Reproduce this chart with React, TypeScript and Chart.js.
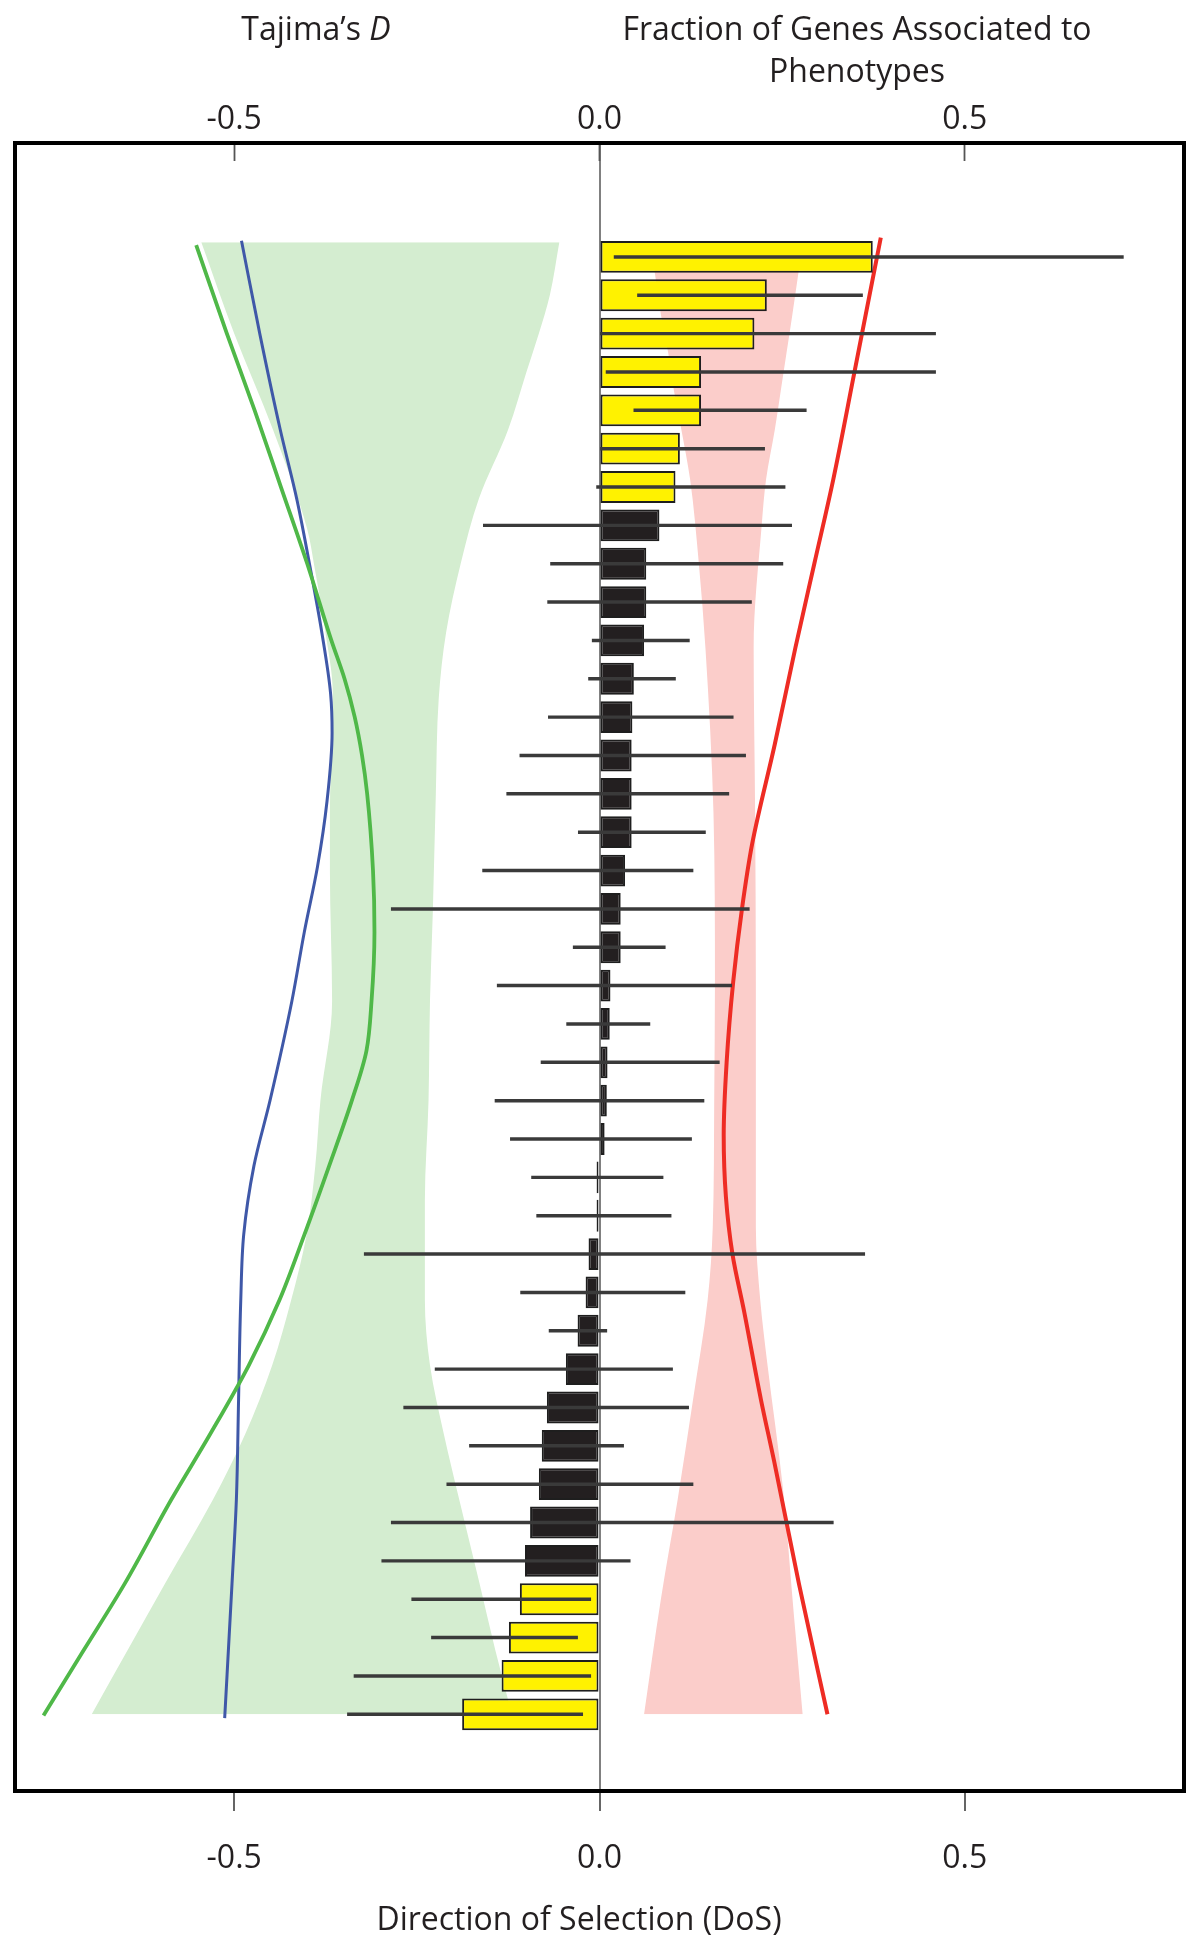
import React, { useEffect, useRef } from 'react';
import { Chart, registerables } from 'chart.js';

Chart.register(...registerables);

// ---------- data (rows top -> bottom) ----------
const DOS = [
  0.374, 0.229, 0.212, 0.139, 0.139, 0.11, 0.104,
  0.082, 0.064, 0.064, 0.061, 0.047, 0.045, 0.044, 0.044, 0.044, 0.035, 0.029, 0.029,
  0.015, 0.014, 0.011, 0.01, 0.007, -0.004, -0.004, -0.015, -0.019, -0.03, -0.046,
  -0.072, -0.079, -0.083, -0.095, -0.102,
  -0.109, -0.124, -0.134, -0.188,
];
const DOS_LOW = [
  0.02, 0.052, 0.0, 0.009, 0.047, 0.0, -0.004,
  -0.159, -0.067, -0.071, -0.01, -0.015, -0.07, -0.109, -0.127, -0.029, -0.16, -0.285, -0.036,
  -0.14, -0.045, -0.08, -0.143, -0.122, -0.093, -0.086, -0.322, -0.108, -0.069, -0.225,
  -0.268, -0.178, -0.209, -0.285, -0.298,
  -0.257, -0.23, -0.336, -0.345,
];
const DOS_HIGH = [
  0.717, 0.36, 0.46, 0.46, 0.283, 0.226, 0.254,
  0.263, 0.251, 0.208, 0.123, 0.104, 0.183, 0.2, 0.177, 0.145, 0.128, 0.205, 0.09,
  0.181, 0.069, 0.164, 0.143, 0.126, 0.087, 0.098, 0.363, 0.117, 0.01, 0.1,
  0.122, 0.033, 0.128, 0.32, 0.042,
  -0.012, -0.03, -0.012, -0.023,
];
const SIGNIFICANT = [
  true, true, true, true, true, true, true,
  false, false, false, false, false, false, false, false, false, false, false, false,
  false, false, false, false, false, false, false, false, false, false, false,
  false, false, false, false, false,
  true, true, true, true,
];

// Tajima's D curves (row position, value)
const GREEN_LINE_ROW = [-0.31, 2, 4, 6, 8, 10, 11, 12, 13, 14, 16, 17.6, 19.4, 20.7, 22, 23.7, 25.5, 27.2, 28.9, 30.7, 32.4, 34.6, 36.3, 38.03];
const GREEN_LINE_D = [-0.552, -0.51, -0.472, -0.436, -0.4, -0.367, -0.349, -0.335, -0.325, -0.318, -0.31, -0.308, -0.312, -0.319, -0.339, -0.37, -0.404, -0.438, -0.48, -0.533, -0.586, -0.65, -0.705, -0.761];
const BLUE_LINE_ROW = [-0.42, 2, 4.5, 6.34, 8.1, 9.8, 11.4, 12.4, 14.2, 15.9, 17.6, 19.4, 22, 23.7, 25.5, 27.2, 29.8, 32.4, 34.6, 38.1];
const BLUE_LINE_D = [-0.49, -0.465, -0.437, -0.414, -0.396, -0.38, -0.368, -0.366, -0.373, -0.386, -0.404, -0.421, -0.451, -0.473, -0.487, -0.491, -0.494, -0.497, -0.503, -0.513];
const GREEN_BAND_LO_ROW = [-0.38, 2, 4.5, 7.1, 8.1, 9.8, 11.4, 12.4, 14.5, 16, 19.4, 22, 23.7, 25.5, 27.2, 28.9, 30.7, 32.4, 34.6, 36.3, 38];
const GREEN_BAND_LO = [-0.545, -0.5, -0.447, -0.4, -0.39, -0.375, -0.365, -0.366, -0.369, -0.369, -0.366, -0.382, -0.389, -0.401, -0.422, -0.448, -0.485, -0.529, -0.595, -0.645, -0.695];
const GREEN_BAND_HI_ROW = [-0.38, 1, 2, 3, 4.5, 6.3, 8, 9.8, 11.5, 14, 17, 19.4, 22, 24.6, 27.2, 28.9, 30.7, 32.4, 34.6, 36.3, 38];
const GREEN_BAND_HI = [-0.055, -0.068, -0.083, -0.1, -0.125, -0.165, -0.19, -0.21, -0.22, -0.224, -0.228, -0.232, -0.234, -0.239, -0.239, -0.232, -0.213, -0.192, -0.164, -0.143, -0.12];

// Fraction of genes associated to phenotypes (row position, value)
const RED_LINE_ROW = [-0.5, 3, 5.8, 8, 10.2, 12.7, 15.3, 17, 18.9, 21, 22.9, 24.5, 26, 27.5, 29.8, 31.4, 34.6, 38];
const RED_LINE_FRAC = [0.385, 0.349, 0.32, 0.294, 0.268, 0.24, 0.209, 0.195, 0.183, 0.174, 0.17, 0.173, 0.182, 0.198, 0.221, 0.239, 0.273, 0.312];
const PINK_BAND_LO_ROW = [-0.4, 0.45, 1.5, 2.5, 3.5, 4.5, 5.8, 8, 10.2, 14.5, 18.9, 22, 25.3, 27.2, 29.8, 32.4, 35, 38];
const PINK_BAND_LO = [0.07, 0.076, 0.084, 0.094, 0.102, 0.112, 0.124, 0.136, 0.145, 0.156, 0.158, 0.157, 0.155, 0.148, 0.128, 0.107, 0.084, 0.061];
const PINK_BAND_HI_ROW = [-0.4, 0.45, 1.5, 2.5, 3.5, 4.5, 5.8, 7, 10.2, 14.5, 18.9, 25.3, 27.2, 28.9, 32.1, 35.4, 38];
const PINK_BAND_HI = [0.279, 0.272, 0.264, 0.256, 0.248, 0.24, 0.228, 0.222, 0.211, 0.213, 0.214, 0.214, 0.22, 0.23, 0.251, 0.266, 0.278];

const X_TICKS = [-0.5, 0, 0.5];
const X_MIN = -0.8;
const X_MAX = 0.8;
const ROW_MIN = -2.97;
const ROW_MAX = 40.0;

const TITLE_LEFT = 'Tajima\u2019s ';
const TITLE_LEFT_ITALIC = 'D';
const TITLE_RIGHT = ['Fraction of Genes Associated to', 'Phenotypes'];
const TITLE_BOTTOM = 'Direction of Selection (DoS)';

const FONT = "'Open Sans', 'Noto Sans', 'DejaVu Sans', sans-serif";
const TEXT = '#231f20';

export default function App() {
  const ref = useRef<HTMLCanvasElement>(null);

  useEffect(() => {
    document.body.style.margin = '0';
    const canvas = ref.current;
    if (!canvas) return;
    const pair = (rows: number[], vals: number[]) => rows.map((r, i) => ({ x: vals[i], y: r }));
    const rows = DOS.map((_, i) => i);

    const band = (data: any, fill: any, color: string) => ({
      type: 'line', indexAxis: 'y', xAxisID: 'x', yAxisID: 'y', data,
      borderWidth: 0, borderColor: 'rgba(0,0,0,0)', pointRadius: 0,
      cubicInterpolationMode: 'monotone',
      fill, backgroundColor: color, order: 10,
    });
    const curve = (data: any, color: string, width: number) => ({
      type: 'line', indexAxis: 'y', xAxisID: 'x', yAxisID: 'y', data,
      borderWidth: width, borderColor: color, pointRadius: 0,
      cubicInterpolationMode: 'monotone',
      fill: false, order: 5,
    });

    const frame = {
      id: 'frame',
      afterDraw(c: any) {
        const { left, top, right, bottom } = c.chartArea;
        const g = c.ctx;
        g.save();
        g.strokeStyle = '#000';
        g.lineWidth = 4;
        g.strokeRect(left, top, right - left, bottom - top);
        g.restore();
      },
    };

    const titles = {
      id: 'titles',
      afterDraw(c: any) {
        const g = c.ctx;
        g.save();
        g.fillStyle = TEXT;
        g.textBaseline = 'alphabetic';
        const normal = `32px ${FONT}`;
        const italic = `italic 32px ${FONT}`;
        g.font = normal;
        const wa = g.measureText(TITLE_LEFT).width;
        g.font = italic;
        const wb = g.measureText(TITLE_LEFT_ITALIC).width;
        const sx = 316 - (wa + wb) / 2;
        g.textAlign = 'left';
        g.font = normal;
        g.fillText(TITLE_LEFT, sx, 40);
        g.font = italic;
        g.fillText(TITLE_LEFT_ITALIC, sx + wa, 40);
        g.font = normal;
        g.textAlign = 'center';
        g.fillText(TITLE_RIGHT[0], 857, 40);
        g.fillText(TITLE_RIGHT[1], 857, 82);
        g.fillText(TITLE_BOTTOM, 579, 1930);
        g.restore();
      },
    };

    const tickFont = { family: FONT, size: 32 };
    const setTicks = (s: any) => { s.ticks = X_TICKS.map((v) => ({ value: v })); };

    const chart = new Chart(canvas, {
      type: 'bar',
      data: {
        datasets: [
          band(pair(GREEN_BAND_LO_ROW, GREEN_BAND_LO), 1, '#d4edd0'),
          band(pair(GREEN_BAND_HI_ROW, GREEN_BAND_HI), false, '#d4edd0'),
          band(pair(PINK_BAND_LO_ROW, PINK_BAND_LO), 3, '#fbcdca'),
          band(pair(PINK_BAND_HI_ROW, PINK_BAND_HI), false, '#fbcdca'),
          curve(pair(GREEN_LINE_ROW, GREEN_LINE_D), '#4fb848', 3.8),
          curve(pair(BLUE_LINE_ROW, BLUE_LINE_D), '#3f58a8', 3),
          curve(pair(RED_LINE_ROW, RED_LINE_FRAC), '#ee2c24', 4),
          {
            type: 'bar', xAxisID: 'x', yAxisID: 'y',
            data: rows.map((i) => ({ x: DOS[i], y: i })),
            backgroundColor: SIGNIFICANT.map((s) => (s ? '#fff200' : '#231f20')),
            borderColor: '#1e1e1e', borderWidth: 2, borderSkipped: false,
            barPercentage: 0.83, categoryPercentage: 1, grouped: false, order: 2,
          },
          {
            type: 'bar', xAxisID: 'x', yAxisID: 'y',
            data: rows.map((i) => ({ x: [DOS_LOW[i], DOS_HIGH[i]], y: i })),
            backgroundColor: '#3a3a3a', borderWidth: 0, barThickness: 2.8,
            grouped: false, order: 1,
          },
        ] as any,
      },
      options: {
        indexAxis: 'y',
        responsive: false,
        animation: false,
        devicePixelRatio: 1,
        layout: { padding: { left: 15, right: 16, top: 0, bottom: 0 } },
        plugins: { legend: { display: false }, tooltip: { enabled: false } },
        scales: {
          x: {
            type: 'linear', axis: 'x', position: 'bottom', min: X_MIN, max: X_MAX,
            afterBuildTicks: setTicks,
            afterFit: (s: any) => { s.height = 155; },
            ticks: { callback: (v: any) => Number(v).toFixed(1), font: tickFont, color: TEXT, padding: 29, maxRotation: 0, autoSkip: false },
            grid: {
              color: (c: any) => (c.tick && c.tick.value === 0 ? '#808080' : 'rgba(0,0,0,0)'),
              lineWidth: 2, tickColor: '#555', tickLength: 20, tickWidth: 1.8,
            },
            border: { display: false },
          },
          x2: {
            type: 'linear', axis: 'x', position: 'top', min: X_MIN, max: X_MAX,
            afterBuildTicks: setTicks,
            afterFit: (s: any) => { s.height = 143; },
            ticks: { callback: (v: any) => Number(v).toFixed(1), font: tickFont, color: TEXT, padding: 22, maxRotation: 0, autoSkip: false },
            grid: { drawOnChartArea: false, tickColor: '#555', tickLength: -18, tickWidth: 1.8 },
            border: { display: false },
          },
          y: {
            type: 'linear', min: ROW_MIN, max: ROW_MAX, reverse: true, display: false,
            offset: false, grid: { offset: false },
          },
        } as any,
      },
      plugins: [frame, titles],
    } as any);

    return () => chart.destroy();
  }, []);

  return (
    <div style={{ width: 1200, height: 1946 }}>
      <canvas ref={ref} width={1200} height={1946} style={{ display: 'block' }} />
    </div>
  );
}
